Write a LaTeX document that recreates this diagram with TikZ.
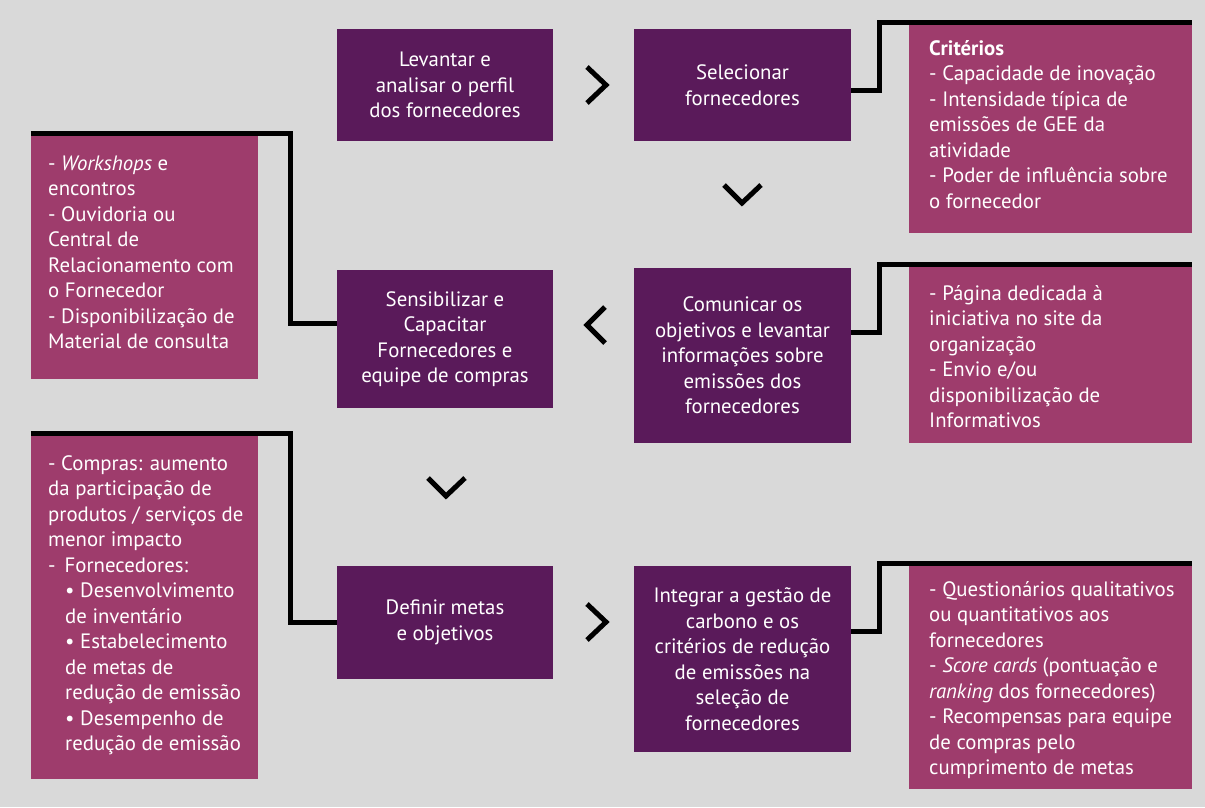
\documentclass[tikz,border=0pt]{standalone}
\usepackage{fontspec}
\setmainfont{PT Sans}
\definecolor{bgc}{HTML}{D9D9D9}
\definecolor{dkc}{HTML}{5A1A5A}
\definecolor{pkc}{HTML}{9E3C6C}
\newcommand{\txtfont}{\fontsize{20.8}{25.5}\selectfont}
\begin{document}
\begin{tikzpicture}[x=1pt,y=-1pt,
  dbox/.style={fill=dkc, text=white, align=center, inner sep=0pt, font=\txtfont},
  pbox/.style={fill=pkc, inner sep=0pt},
  ptext/.style={text=white, anchor=base west, inner sep=0pt, font=\txtfont},
  conn/.style={line width=5pt, black, line join=miter, line cap=butt},
  chev/.style={line width=5pt, black, line join=miter, line cap=butt}
]
\useasboundingbox (0,0) rectangle (1205,807);
\fill[bgc] (0,0) rectangle (1205,807);

% process boxes
\node[dbox, minimum width=216pt, minimum height=112pt] (lev) at (445,85) {Levantar e\\analisar o perfil\\dos fornecedores};
\node[dbox, minimum width=217pt, minimum height=112pt] (sel) at (742.5,85) {Selecionar\\fornecedores};
\node[dbox, minimum width=216pt, minimum height=138pt] (sens) at (445,339) {Sensibilizar e\\Capacitar\\Fornecedores e\\equipe de compras};
\node[dbox, minimum width=217pt, minimum height=175pt] (com) at (742.5,355.5) {Comunicar os\\objetivos e levantar\\informações sobre\\emissões dos\\fornecedores};
\node[dbox, minimum width=216pt, minimum height=113pt] (def) at (445,622.5) {Definir metas\\e objetivos};
\node[dbox, minimum width=217pt, minimum height=186pt] (int) at (742.5,659) {Integrar a gestão de\\carbono e os\\critérios de redução\\de emissões na\\seleção de\\fornecedores};

% info boxes
\node[pbox, minimum width=283pt, minimum height=210pt] (crit) at (1050.5,128) {};
\node[pbox, minimum width=227pt, minimum height=243pt] (work) at (144.5,257.5) {};
\node[pbox, minimum width=227pt, minimum height=344pt] (comp) at (144.5,607) {};
\node[pbox, minimum width=283pt, minimum height=176pt] (cinfo) at (1050.5,355) {};
\node[pbox, minimum width=283pt, minimum height=224pt] (iinfo) at (1050.5,677) {};

\node[ptext] (critt) at (929,55) {\parbox[t]{260pt}{\raggedright\textbf{Critérios}\\- Capacidade de inovação\\- Intensidade típica de\\emissões de GEE da\\atividade\\- Poder de influência sobre\\o fornecedor}};
\node[ptext] (workt) at (48,170) {\parbox[t]{205pt}{\raggedright - \textit{Workshops} e\\encontros\\- Ouvidoria ou\\Central de\\Relacionamento com\\o Fornecedor\\- Disponibilização de\\Material de consulta}};
\node[ptext] (compt) at (48,470) {\parbox[t]{205pt}{\raggedright - Compras: aumento\\da participação de\\produtos / serviços de\\menor impacto\\-\hspace{9pt}Fornecedores:\\\hspace*{17pt}• Desenvolvimento\\\hspace*{17pt}de inventário\\\hspace*{17pt}• Estabelecimento\\\hspace*{17pt}de metas de\\\hspace*{17pt}redução de emissão\\\hspace*{17pt}• Desempenho de\\\hspace*{17pt}redução de emissão}};
\node[ptext] (cinfot) at (929,300) {\parbox[t]{260pt}{\raggedright - Página dedicada à\\iniciativa no site da\\organização\\- Envio e/ou\\disponibilização de\\Informativos}};
\node[ptext] (iinfot) at (929,596) {\parbox[t]{260pt}{\raggedright - Questionários qualitativos\\ou quantitativos aos\\fornecedores\\- \textit{Score cards} (pontuação e\\\textit{ranking} dos fornecedores)\\- Recompensas para equipe\\de compras pelo\\cumprimento de metas}};

% connectors
\coordinate (k1) at (879,22);
\coordinate (k2) at (879,264);
\coordinate (k3) at (879,563);
\coordinate (k4) at (290,133);
\coordinate (k5) at (290,433);
\draw[conn] (sel.east |- 0,90) -| (k1) -- (crit.north east |- k1);
\draw[conn] (com.east |- 0,332) -| (k2) -- (cinfo.north east |- k2);
\draw[conn] (int.east |- 0,631) -| (k3) -- (iinfo.north east |- k3);
\draw[conn] (work.north west |- k4) -- (k4) |- (sens.west |- 0,323);
\draw[conn] (comp.north west |- k5) -- (k5) |- (def.west |- 0,622);

% chevrons
\draw[chev] (587,67) -- (606,85) -- (587,103);
\draw[chev] (724,185) -- (742,203) -- (761,185);
\draw[chev] (605,307) -- (587,325) -- (605,343);
\draw[chev] (428,478) -- (446,496) -- (465,478);
\draw[chev] (587,604) -- (606,622) -- (587,640);
\end{tikzpicture}
\end{document}
